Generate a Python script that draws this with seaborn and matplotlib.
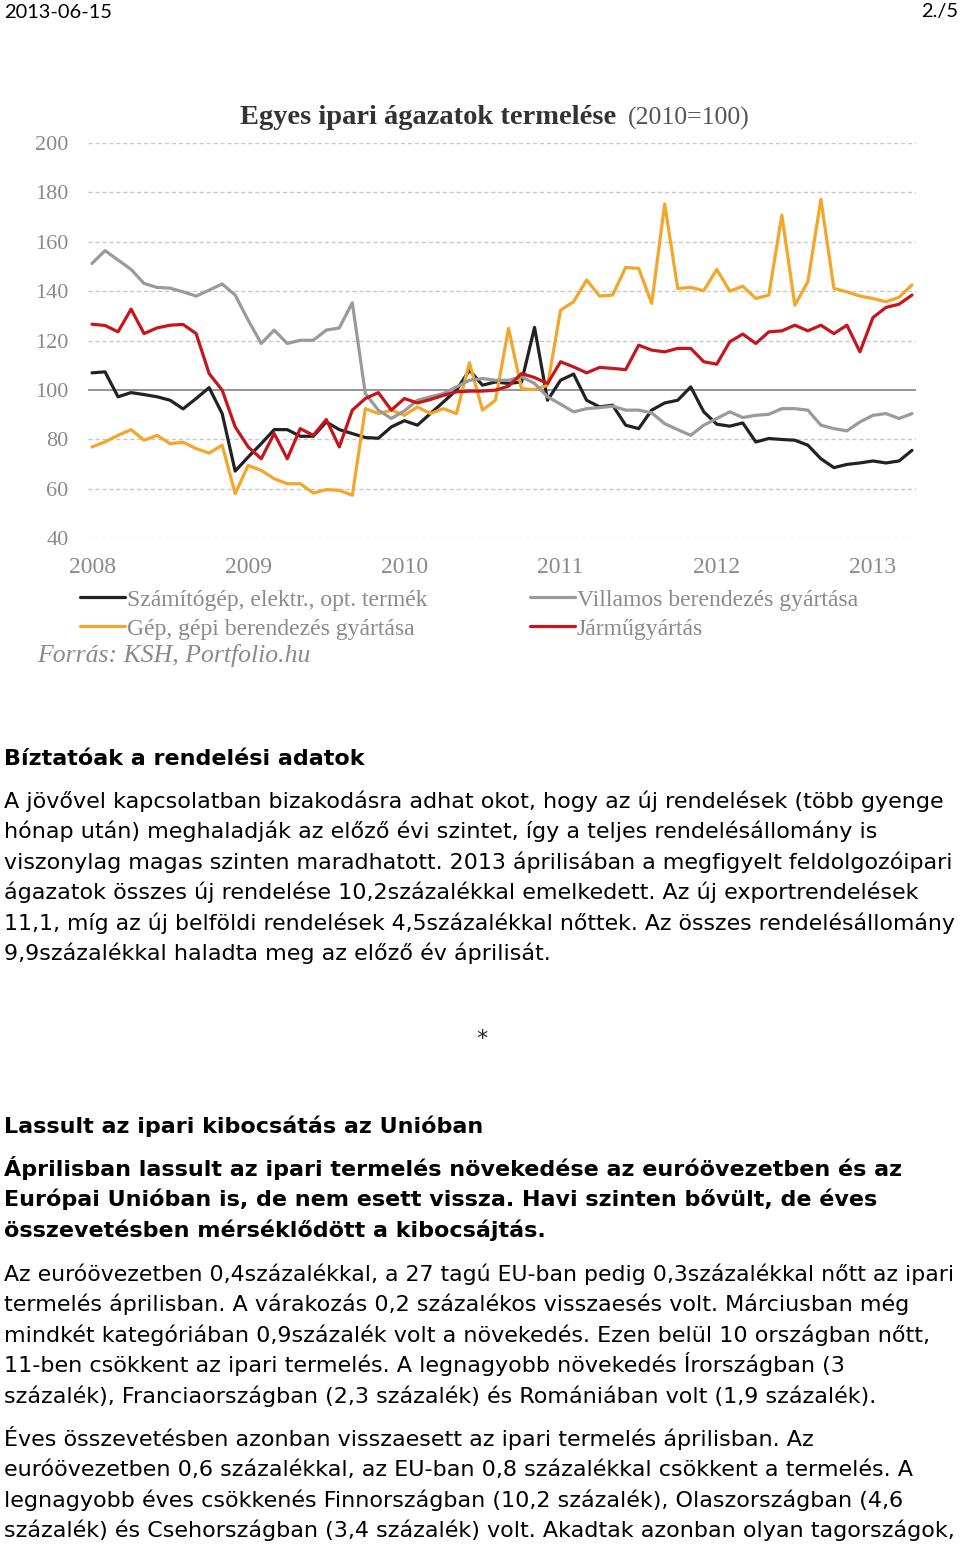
import numpy as np
import pandas as pd
import matplotlib
matplotlib.use("Agg")
import matplotlib.pyplot as plt
import seaborn as sns

# ---------------- data ----------------
series_names = [
    "Számítógép, elektr., opt. termék",
    "Gép, gépi berendezés gyártása",
    "Villamos berendezés gyártása",
    "Járműgyártás",
]
months = pd.date_range("2008-01-01", "2013-04-01", freq="MS")

szamitogep = [106.9, 107.3, 97.2, 98.9, 98.1, 97.2, 95.8, 92.3, 96.5, 100.9, 90.4, 67.1,
              72.8, 78.2, 83.9, 83.9, 81.2, 81.2, 87.0, 83.9, 82.3, 80.7, 80.4, 85.0,
              87.5, 85.7, 90.4, 95.1, 99.9, 108.0, 101.9, 103.2, 102.6, 103.2, 125.3, 95.8,
              103.9, 106.4, 95.8, 93.1, 93.8, 85.7, 84.3, 91.8, 94.7, 95.8, 101.2, 91.1,
              86.1, 85.3, 86.6, 78.9, 80.3, 79.9, 79.6, 77.6, 72.1, 68.5, 69.8, 70.4,
              71.2, 70.4, 71.2, 75.5]
gep = [76.9, 78.9, 81.6, 83.9, 79.6, 81.6, 78.2, 78.8, 76.2, 74.4, 77.6, 58.0,
       69.4, 67.4, 64.0, 62.0, 62.0, 58.2, 59.6, 59.3, 57.3, 92.4, 90.4, 91.8,
       89.7, 93.1, 90.4, 92.4, 90.4, 111.0, 91.8, 95.8, 124.9, 100.5, 100.1, 101.9,
       132.3, 135.7, 144.5, 138.0, 138.4, 149.6, 149.2, 135.0, 175.3, 141.1, 141.5, 140.2,
       148.8, 140.0, 142.0, 137.0, 138.4, 170.8, 134.3, 143.8, 177.2, 141.1, 139.7, 138.0,
       137.0, 135.7, 137.5, 142.5]
villamos = [151.2, 156.4, 152.6, 148.8, 143.1, 141.5, 141.2, 139.7, 138.0, 140.4, 142.9, 138.4,
            128.2, 118.8, 124.2, 118.8, 120.1, 120.1, 124.2, 125.1, 135.3, 98.5, 91.8, 88.4,
            91.5, 95.8, 97.2, 98.5, 101.2, 103.9, 104.6, 103.9, 103.9, 105.3, 102.6, 97.2,
            94.2, 91.1, 92.4, 92.8, 93.4, 91.8, 91.8, 90.7, 86.3, 83.9, 81.6, 85.7,
            88.4, 91.1, 88.8, 89.7, 90.1, 92.4, 92.4, 91.8, 85.7, 84.3, 83.4, 87.0,
            89.7, 90.4, 88.4, 90.4]
jarmu = [126.6, 126.1, 123.5, 132.7, 122.8, 125.1, 126.2, 126.5, 122.8, 106.6, 99.9, 85.0,
         76.9, 72.1, 82.3, 72.1, 84.3, 81.6, 88.0, 76.9, 91.8, 96.5, 98.9, 91.8,
         96.5, 94.7, 96.1, 97.8, 99.2, 99.5, 99.5, 99.9, 101.5, 106.6, 105.0, 102.6,
         111.4, 109.3, 106.9, 109.1, 108.7, 108.2, 118.1, 116.1, 115.4, 116.8, 116.8, 111.4,
         110.4, 119.5, 122.6, 118.8, 123.5, 123.9, 126.2, 123.9, 126.2, 122.8, 126.2, 115.4,
         129.3, 133.4, 134.7, 138.4]

year_labels = ["2008", "2009", "2010", "2011", "2012", "2013"]
y_ticks = [40, 60, 80, 100, 120, 140, 160, 180, 200]

colors = ["#222222", "#f2a62a", "#9a9a9a", "#c4161c"]

df = pd.DataFrame({
    "idx": np.tile(np.arange(len(months)), 4),
    "value": szamitogep + gep + villamos + jarmu,
    "series": np.repeat(series_names, len(months)),
})

# ---------------- figure ----------------
W, H = 960, 1547
fig = plt.figure(figsize=(W / 100, H / 100), dpi=100)
sns.set_style("white")

def fx(px):
    return px / W

def fy(py):
    return 1 - py / H

left, right, top, bottom = 88, 916, 143, 538
ax = fig.add_axes([fx(left), fy(bottom), fx(right) - fx(left), (bottom - top) / H])

sns.lineplot(data=df, x="idx", y="value", hue="series", hue_order=series_names,
             palette=dict(zip(series_names, colors)), linewidth=2.3, ax=ax,
             legend=True, zorder=3)
handles, labels = ax.get_legend_handles_labels()
ax.get_legend().remove()

n = len(months)
pxm = (912 - 92) / (n - 1)
ax.set_xlim(-(92 - left) / pxm, (n - 1) + (right - 912) / pxm)
ax.set_ylim(40, 200)
for s in ax.spines.values():
    s.set_visible(False)
ax.set_yticks(y_ticks)
ax.set_yticklabels([str(t) for t in y_ticks], family="Liberation Serif",
                   fontsize=16, color="#8a8a8a")
ax.set_xticks([12 * i for i in range(len(year_labels))])
ax.set_xticklabels(year_labels, family="Liberation Serif", fontsize=17, color="#8a8a8a")
ax.tick_params(axis="y", length=0, pad=14)
ax.tick_params(axis="x", length=0, pad=14)
ax.set_xlabel("")
ax.set_ylabel("")
for t in y_ticks:
    if t == 100:
        ax.axhline(t, color="#8c8c8c", lw=1.3, zorder=1)
    else:
        ax.axhline(t, color="#c8c8c8", lw=1.0, ls=(0, (3, 2)), zorder=1)

# title
fig.text(fx(240), fy(117), "Egyes ipari ágazatok termelése", family="Liberation Serif",
         fontweight="bold", fontsize=20.5, color="#333333", va="center", ha="left")
fig.text(fx(628), fy(118), "(2010=100)", family="Liberation Serif",
         fontsize=18.5, color="#555555", va="center", ha="left")

# legends
leg_kw = dict(frameon=False, handlelength=1.9, handletextpad=0.08, labelspacing=0.32,
              prop={"family": "Liberation Serif", "size": 17}, borderpad=0, borderaxespad=0)
lg1 = fig.legend(handles[:2], labels[:2], loc="upper left",
                 bbox_to_anchor=(fx(80), fy(589)), **leg_kw)
lg2 = fig.legend(handles[2:], labels[2:], loc="upper left",
                 bbox_to_anchor=(fx(530), fy(589)), **leg_kw)
for lg in (lg1, lg2):
    for t in lg.get_texts():
        t.set_color("#8a8a8a")
    for l in lg.get_lines():
        l.set_linewidth(2.3)

fig.text(fx(37), fy(655), "Forrás: KSH, Portfolio.hu", family="Liberation Serif",
         style="italic", fontsize=18.5, color="#8a8a8a", va="center", ha="left")

# header
fig.text(fx(4), fy(12), "2013-06-15", family="Lato", fontsize=14.4, color="#000000",
         va="center", ha="left")
fig.text(fx(958), fy(12), "2./5", family="Lato", fontsize=14.4, color="#000000",
         va="center", ha="right")

# body text
body_font = "DejaVu Sans"
fs = 16.0
max_right = 954
renderer = fig.canvas.get_renderer()

def line(y, s, bold=False):
    t = fig.text(fx(4), fy(y), s, family=body_font, fontsize=fs,
                 fontweight="bold" if bold else "normal", color="#000000",
                 va="baseline", ha="left")
    w = t.get_window_extent(renderer=renderer).width
    if 4 + w > max_right:
        t.set_fontsize(fs * (max_right - 4) / w)
    return t

line(765, "Bíztatóak a rendelési adatok", bold=True)
para1 = [
    "A jövővel kapcsolatban bizakodásra adhat okot, hogy az új rendelések (több gyenge",
    "hónap után) meghaladják az előző évi szintet, így a teljes rendelésállomány is",
    "viszonylag magas szinten maradhatott. 2013 áprilisában a megfigyelt feldolgozóipari",
    "ágazatok összes új rendelése 10,2százalékkal emelkedett. Az új exportrendelések",
    "11,1, míg az új belföldi rendelések 4,5százalékkal nőttek. Az összes rendelésállomány",
    "9,9százalékkal haladta meg az előző év áprilisát.",
]
for i, s in enumerate(para1):
    line(808 + i * 30.4, s)

fig.text(fx(482), fy(1045), "*", family=body_font, fontsize=fs, ha="center",
         va="baseline")

line(1133, "Lassult az ipari kibocsátás az Unióban", bold=True)
para2 = [
    "Áprilisban lassult az ipari termelés növekedése az euróövezetben és az",
    "Európai Unióban is, de nem esett vissza. Havi szinten bővült, de éves",
    "összevetésben mérséklődött a kibocsájtás.",
]
for i, s in enumerate(para2):
    line(1176 + i * 30.4, s, bold=True)
para3 = [
    "Az euróövezetben 0,4százalékkal, a 27 tagú EU-ban pedig 0,3százalékkal nőtt az ipari",
    "termelés áprilisban. A várakozás 0,2 százalékos visszaesés volt. Márciusban még",
    "mindkét kategóriában 0,9százalék volt a növekedés. Ezen belül 10 országban nőtt,",
    "11-ben csökkent az ipari termelés. A legnagyobb növekedés Írországban (3",
    "százalék), Franciaországban (2,3 százalék) és Romániában volt (1,9 százalék).",
]
for i, s in enumerate(para3):
    line(1281 + i * 30.4, s)
para4 = [
    "Éves összevetésben azonban visszaesett az ipari termelés áprilisban. Az",
    "euróövezetben 0,6 százalékkal, az EU-ban 0,8 százalékkal csökkent a termelés. A",
    "legnagyobb éves csökkenés Finnországban (10,2 százalék), Olaszországban (4,6",
    "százalék) és Csehországban (3,4 százalék) volt. Akadtak azonban olyan tagországok,",
]
for i, s in enumerate(para4):
    line(1446 + i * 30.4, s)

fig.savefig("out.png", dpi=100)
